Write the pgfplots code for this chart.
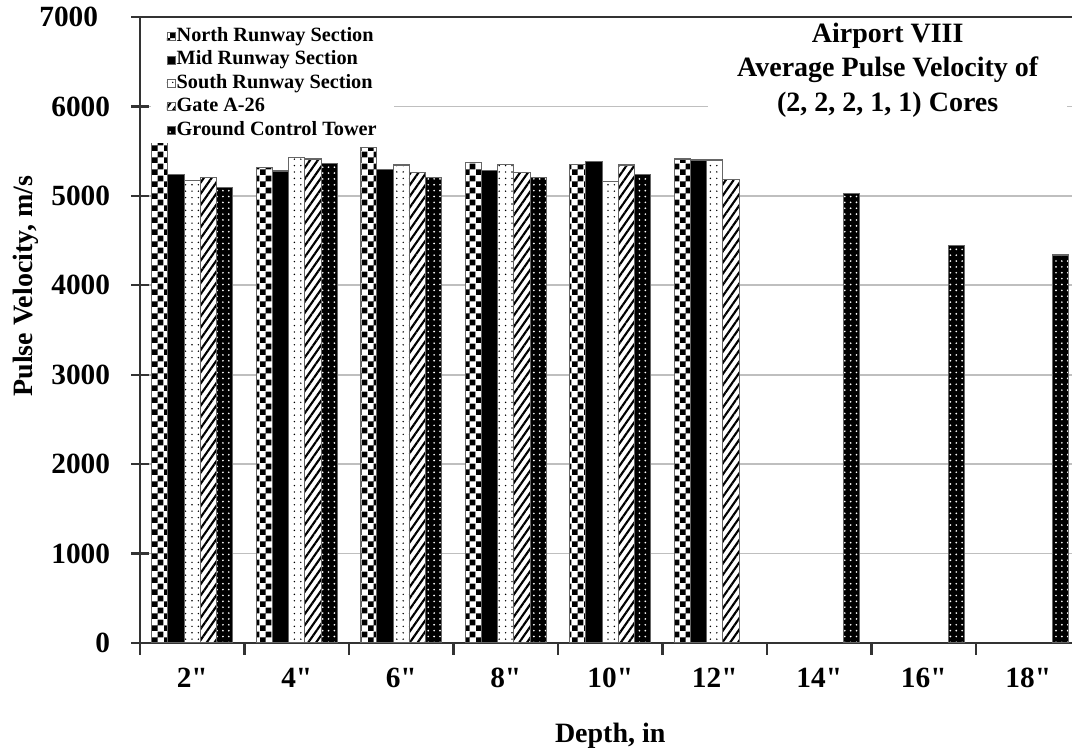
\documentclass[border=0pt]{standalone}
\usepackage{fontspec}
\setmainfont{Liberation Serif}[Ligatures=TeXOff]
\usepackage{pgfplots}
\pgfplotsset{compat=1.18}
\usetikzlibrary{patterns,patterns.meta}

\pgfdeclarepatternformonly{smallchecker}{\pgfqpoint{0pt}{0pt}}{\pgfqpoint{4.4pt}{4.4pt}}{\pgfqpoint{4.4pt}{4.4pt}}{%
  \pgfpathrectangle{\pgfqpoint{0pt}{0pt}}{\pgfqpoint{2.2pt}{2.2pt}}%
  \pgfpathrectangle{\pgfqpoint{2.2pt}{2.2pt}}{\pgfqpoint{2.2pt}{2.2pt}}%
  \pgfusepath{fill}}

\pgfplotsset{
  myleg/.style={legend image code/.code={\draw[##1, line width=0.3pt] (0pt,-1.5pt) rectangle (3pt,1.5pt);}},
  northstyle/.style={draw=black!60, line width=0.4pt, fill=white, postaction={pattern=smallchecker, pattern color=black}},
  midstyle/.style={draw=black!60, line width=0.4pt, fill=black},
  southstyle/.style={draw=black!60, line width=0.4pt, fill=white, postaction={pattern={Dots[distance=2.4pt,radius=0.3pt]}, pattern color=black}},
  gatestyle/.style={draw=black!60, line width=0.4pt, fill=white, postaction={pattern={Lines[angle=55,distance=2.4pt,line width=0.8pt]}, pattern color=black}},
  gctstyle/.style={draw=black!60, line width=0.4pt, fill=black, postaction={pattern={Dots[distance=2.2pt,radius=0.35pt]}, pattern color=white}},
}

\begin{document}
\begin{tikzpicture}
\begin{axis}[
  at={(0pt,0pt)}, anchor=south west,
  scale only axis, width=352.69pt, height=234.75pt,
  xmin=-0.5, xmax=8.5, ymin=0, ymax=7000,
  ybar=0pt, bar width=0.155,
  axis lines*=left,
  axis line style={black!80, line width=0.8pt},
  ytick={0,1000,2000,3000,4000,5000,6000},
  yticklabels={0,1000,2000,3000,4000,5000,6000},
  extra y ticks={7000},
  extra y tick labels={7000},
  extra y tick style={grid=major, major grid style={black!80, line width=0.8pt}},
  ymajorgrids, major grid style={black!25, line width=0.6pt},
  xtick={0,1,2,3,4,5,6,7,8},
  xticklabels={2",4",6",8",10",12",14",16",18"},
  minor xtick={-0.5,0.5,1.5,2.5,3.5,4.5,5.5,6.5,7.5,8.5},
  major x tick style={draw=none},
  minor x tick style={black!80, line width=0.8pt},
  minor tick length=4.5pt,
  xtick align=outside,
  ytick align=center,
  major tick length=6.4pt,
  major y tick style={black!80, line width=0.8pt},
  yticklabel style={font=\fontsize{11}{12}\selectfont\bfseries, anchor=east},
  every y tick label/.append style={xshift=-4.5pt},
  every extra y tick/.append style={yticklabel style={xshift=-4.5pt}},
  xticklabel style={font=\fontsize{11}{12}\selectfont\bfseries, text height=7.8pt, text depth=0pt, yshift=1.1pt},
  xlabel={Depth, in},
  ylabel={Pulse Velocity, m/s},
  xlabel style={font=\fontsize{10.5}{12}\selectfont\bfseries, at={(axis description cs:0.5,-0.1487)}, anchor=center},
  ylabel style={font=\fontsize{10.5}{12}\selectfont\bfseries, at={(axis description cs:-0.1219,0.57)}, anchor=center, rotate=0},
  legend cell align=left,
  legend style={at={(0.0106,0.9894)}, anchor=north west, fill=white, draw=none,
    font=\fontsize{7.6}{8}\selectfont\bfseries, inner xsep=6pt, inner ysep=0.6pt,
    row sep=0.8pt, nodes={inner sep=0.5pt, text height=5.4pt, text depth=1.6pt}},
]
\addplot[northstyle, myleg, bar shift=-0.31] coordinates {(0,5600) (1,5315) (2,5538) (3,5375) (4,5355) (5,5412)};
\addplot[midstyle, myleg, bar shift=-0.155] coordinates {(0,5244) (1,5278) (2,5300) (3,5281) (4,5382) (5,5401)};
\addplot[southstyle, myleg, bar shift=0] coordinates {(0,5170) (1,5427) (2,5345) (3,5355) (4,5160) (5,5401)};
\addplot[gatestyle, myleg, bar shift=0.155] coordinates {(0,5203) (1,5412) (2,5260) (3,5264) (4,5345) (5,5188)};
\addplot[gctstyle, myleg, bar shift=0.31] coordinates {(0,5096) (1,5364) (2,5203) (3,5207) (4,5244) (6,5028) (7,4450) (8,4339)};
\legend{North Runway Section, Mid Runway Section, South Runway Section, Gate A-26, Ground Control Tower}
\node[fill=white, inner xsep=11pt, inner ysep=0.5pt, align=center, anchor=north,
  font=\fontsize{10.5}{13}\selectfont\bfseries] at (rel axis cs:0.795,0.9936)
  {Airport VIII\\Average Pulse Velocity of\\(2, 2, 2, 1, 1) Cores};
\end{axis}
\pgfresetboundingbox
\useasboundingbox (-52.5pt,-39.375pt) rectangle (349.5pt,241.125pt);
\end{tikzpicture}
\end{document}
